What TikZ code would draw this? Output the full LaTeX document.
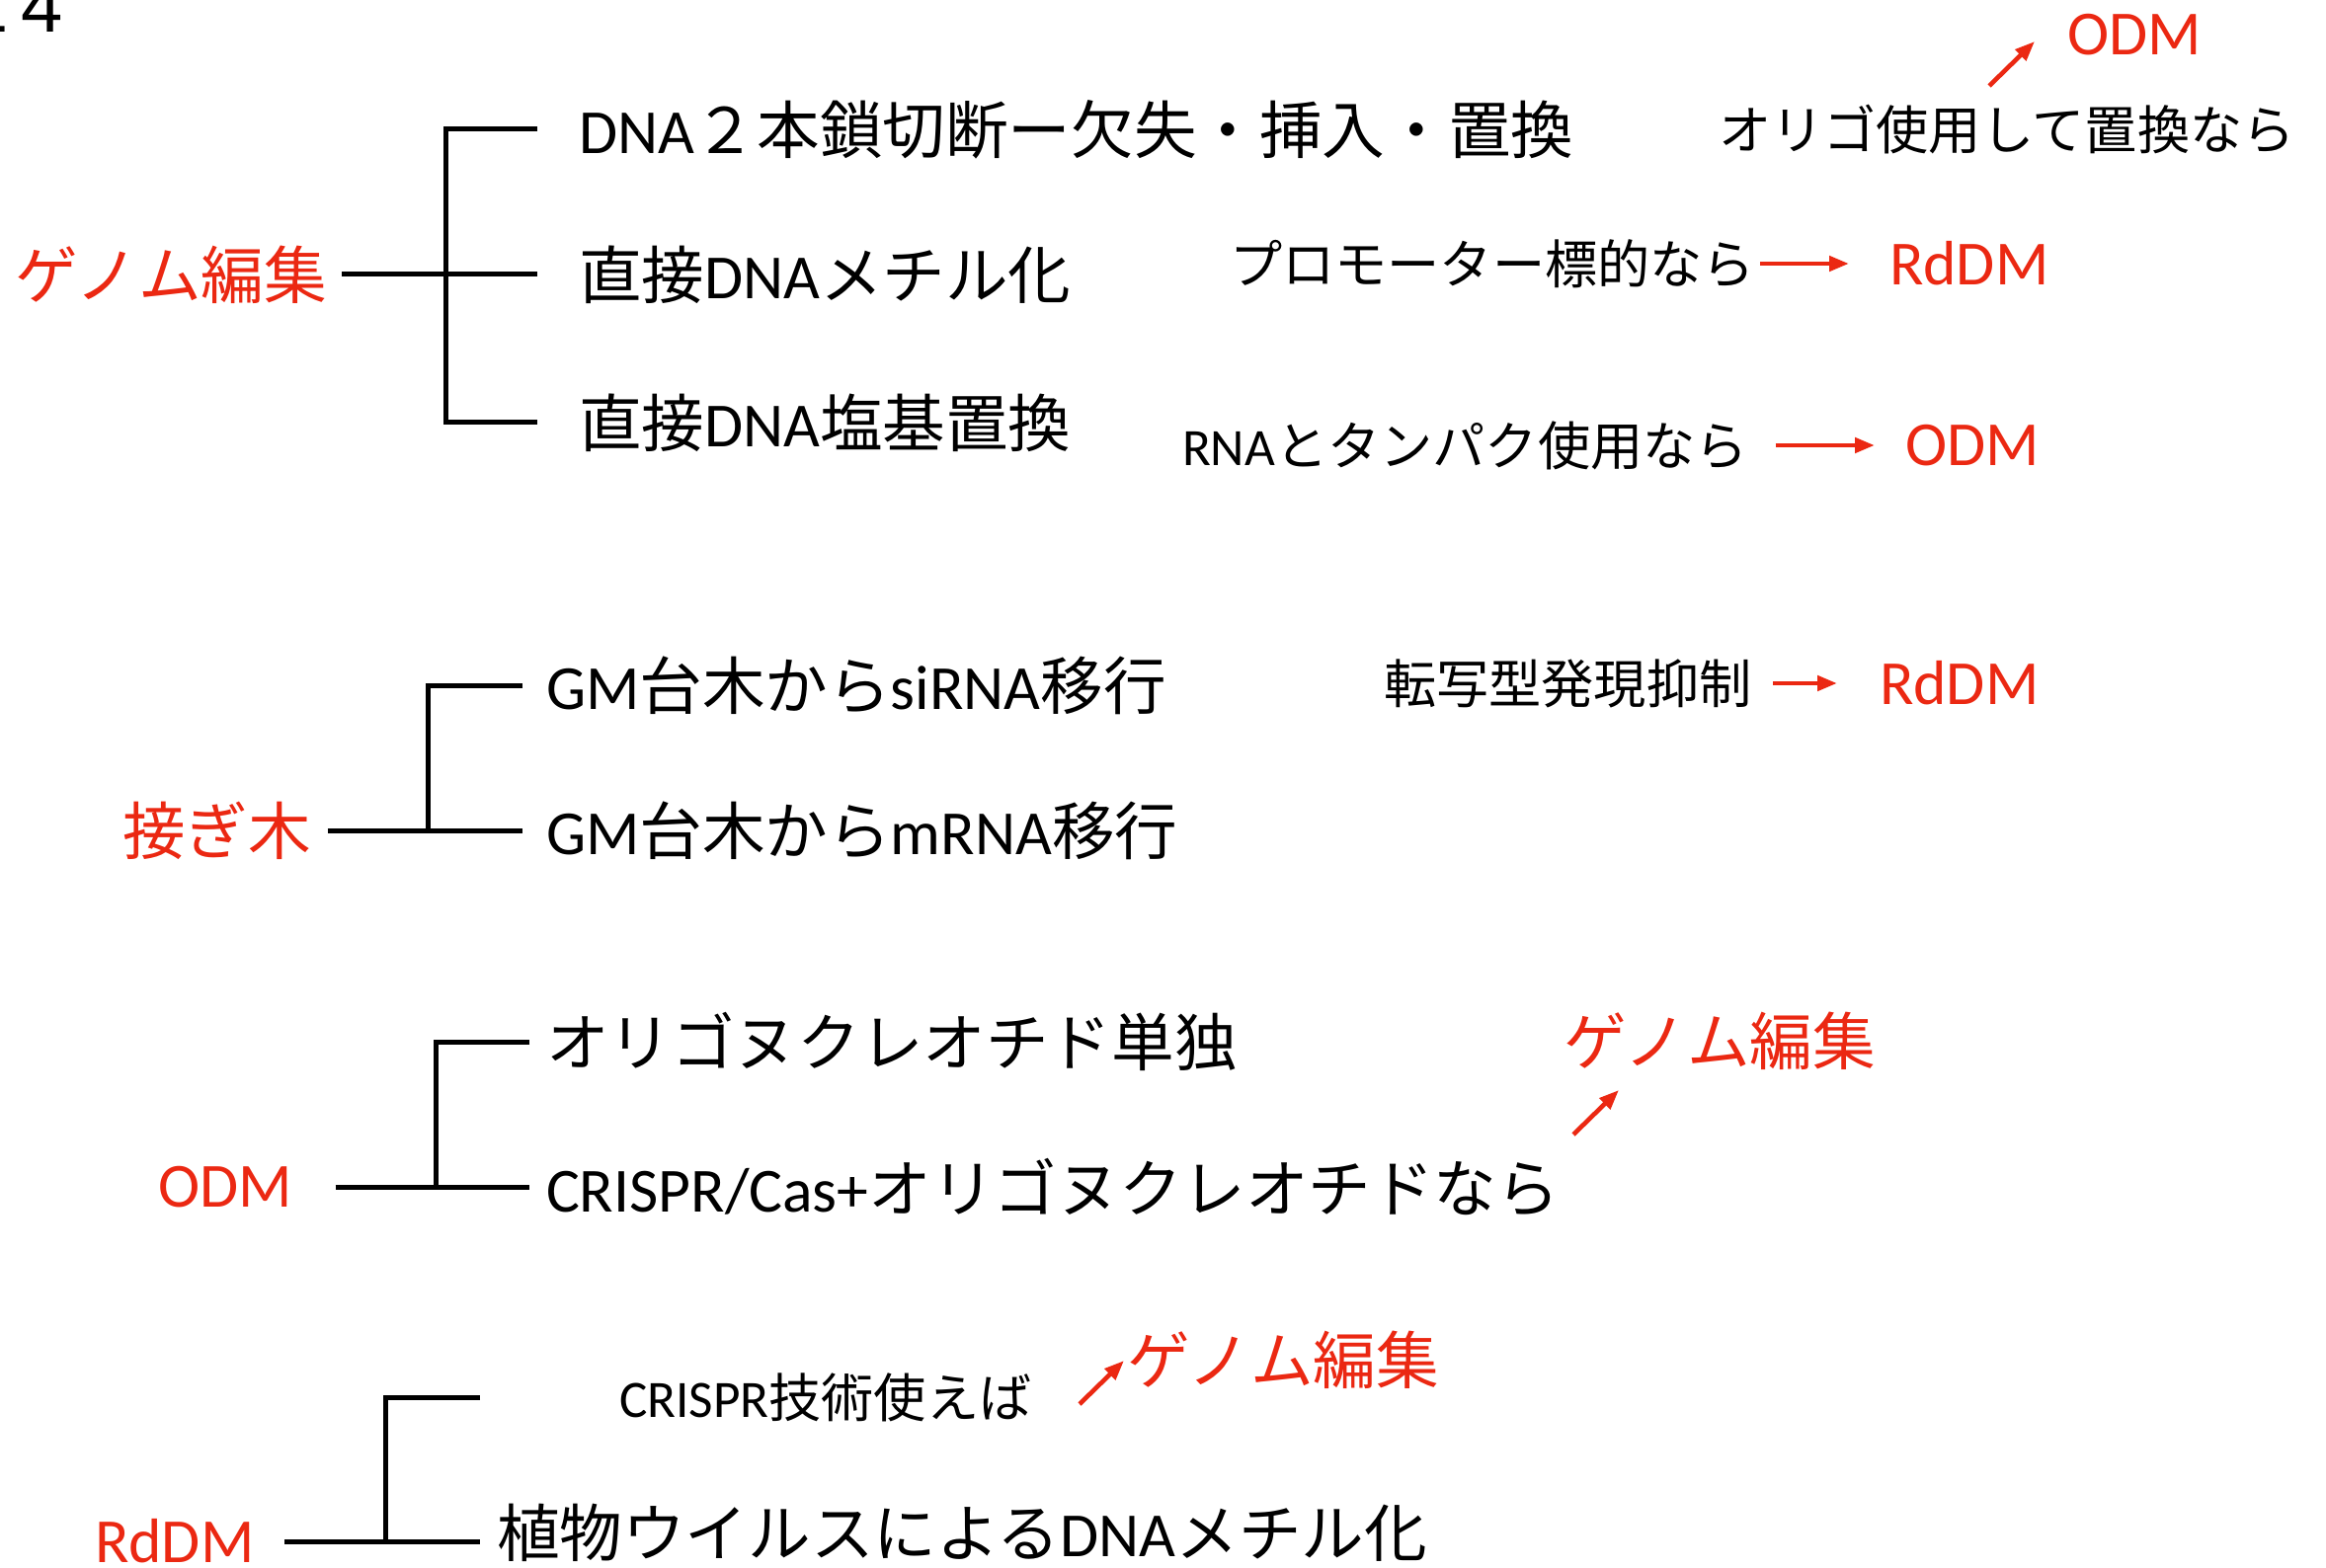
\documentclass[tikz,border=0pt]{standalone}
\usepackage{fontspec}
\setmainfont{Carlito}
\newfontfamily\jp{Noto Sans CJK JP}
\newfontfamily\arialf{Liberation Sans}
\usetikzlibrary{arrows.meta}
\definecolor{labred}{RGB}{235,40,18}
\begin{document}
\begin{tikzpicture}[x=0.5pt,y=-0.5pt,
  tree/.style={line width=2.5pt,black,line join=miter},
  rarr/.style={line width=2.3pt,labred,-{Triangle[length=10pt,width=7.5pt]}},
  big/.style={inner sep=0pt,outer sep=0pt,anchor=west,font=\fontsize{31.8}{36}\selectfont},
  small/.style={inner sep=0pt,outer sep=0pt,anchor=west,font=\fontsize{26.6}{30}\selectfont},
  redlab/.style={big,text=labred}]
\useasboundingbox (0,0) rectangle (2355,1588);
\fill[white] (0,0) rectangle (2355,1588);
\clip (0,0) rectangle (2355,1588);

% page number
\node[font=\arialf\fontsize{38}{42}\selectfont,anchor=base west,inner sep=0pt] (pg) at (-34,33) {1\kern6.5pt 4};

% ---------- Section 1: genome editing ----------
\node[redlab] (ge) at (15,278) {\jp ゲノム編集};
\node[big] (t11) at (586,131) {DNA{\jp ２本鎖切断ー欠失・挿入・置換}};
\node[big] (t12) at (586,278) {{\jp 直接}DNA{\jp メチル化}};
\node[big] (t13) at (586,428) {{\jp 直接}DNA{\jp 塩基置換}};
\coordinate (ja1) at (451,131);
\coordinate (ja3) at (451,428);
\draw[tree,shorten <=21pt,shorten >=21pt] (t11.west) -- (ja1) -- (ja3) -- (t13.west);
\draw[tree,shorten <=7.5pt,shorten >=21pt] (ge.east) -- (t12.west);

\node[small] (o1) at (1740,131) {\jp オリゴ使用して置換なら};
\node[redlab] (od1) at (2093,35) {ODM};
\coordinate (a1s) at (2014,87);
\coordinate (a1e) at (2060,42);
\draw[rarr] (a1s) -- (a1e);

\node[small] (p1) at (1245,267) {\jp プロモーター標的なら};
\node[redlab] (rd1) at (1913,267) {RdDM};
\draw[rarr,shorten <=2.5pt,shorten >=20.5pt] (p1.east) -- (rd1.west);

\node[small] (p2) at (1197,451) {RNA{\jp とタンパク使用なら}};
\node[redlab] (od2) at (1929,451) {ODM};
\draw[rarr,shorten <=14pt,shorten >=15.5pt] (p2.east) -- (od2.west);

% ---------- Section 2: grafting ----------
\node[redlab] (tg) at (124,841) {\jp 接ぎ木};
\node[big] (t21) at (553,694) {GM{\jp 台木から}siRNA{\jp 移行}};
\node[big] (t22) at (553,841) {GM{\jp 台木から}mRNA{\jp 移行}};
\coordinate (jb1) at (433,694);
\coordinate (jb2) at (433,841);
\draw[tree,shorten <=12pt] (t21.west) -- (jb1) -- (jb2);
\draw[tree,shorten <=8.5pt,shorten >=12pt] (tg.east) -- (t22.west);

\node[small] (t23) at (1401,692) {\jp 転写型発現抑制};
\node[redlab] (rd2) at (1903,692) {RdDM};
\draw[rarr,shorten <=11pt,shorten >=21.5pt] (t23.east) -- (rd2.west);

% ---------- Section 3: ODM ----------
\node[redlab] (od3) at (160,1202) {ODM};
\node[big] (t31) at (553,1055) {\jp オリゴヌクレオチド単独};
\node[big] (t32) at (553,1202) {CRISPR/Cas+{\jp オリゴヌクレオチドなら}};
\coordinate (jc1) at (441,1055);
\coordinate (jc2) at (441,1202);
\draw[tree,shorten <=8.5pt] (t31.west) -- (jc1) -- (jc2);
\draw[tree,shorten <=22pt,shorten >=8.5pt] (od3.east) -- (t32.west);

\node[redlab] (ge3) at (1583,1054) {\jp ゲノム編集};
\coordinate (a3s) at (1593,1149);
\coordinate (a3e) at (1639,1104);
\draw[rarr] (a3s) -- (a3e);

% ---------- Section 4: RdDM ----------
\node[redlab] (rd4) at (96,1561) {RdDM};
\node[small] (t41) at (627,1415) {CRISPR{\jp 技術使えば}};
\node[big] (t42) at (503,1552) {{\jp 植物ウイルスによる}DNA{\jp メチル化}};
\coordinate (jd1) at (390,1415);
\coordinate (jd2) at (390,1561);
\coordinate (jd1e) at (486,1415);
\coordinate (jd2e) at (486,1561);
\draw[tree] (jd1e) -- (jd1) -- (jd2);
\draw[tree,shorten <=15.5pt] (rd4.east) -- (jd2e);

\node[redlab] (ge4) at (1141,1377) {\jp ゲノム編集};
\coordinate (a4s) at (1093,1422);
\coordinate (a4e) at (1138,1378);
\draw[rarr] (a4s) -- (a4e);
\end{tikzpicture}
\end{document}
